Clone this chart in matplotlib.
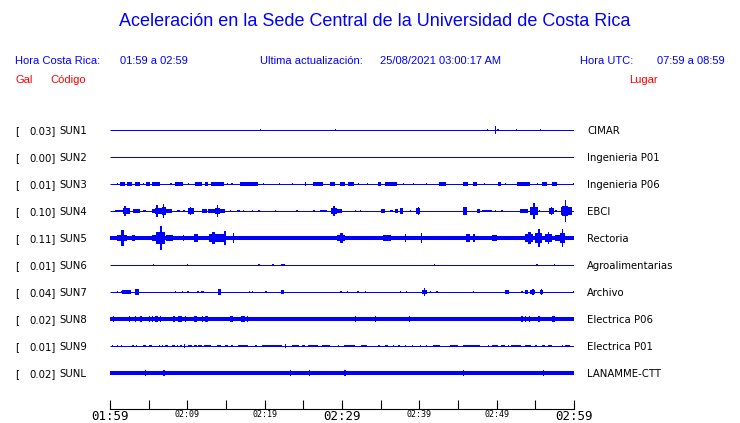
import matplotlib
matplotlib.use("Agg")
import matplotlib.pyplot as plt
from matplotlib.transforms import blended_transform_factory

# ---------------- data ----------------
title = "Aceleración en la Sede Central de la Universidad de Costa Rica"
hora_cr = "01:59 a 02:59"
actualizacion = "25/08/2021 03:00:17 AM"
hora_utc = "07:59 a 08:59"

codes = ["SUN1", "SUN2", "SUN3", "SUN4", "SUN5", "SUN6", "SUN7", "SUN8", "SUN9", "SUNL"]
places = ["CIMAR", "Ingenieria P01", "Ingenieria P06", "EBCI", "Rectoria",
          "Agroalimentarias", "Archivo", "Electrica P06", "Electrica P01", "LANAMME-CTT"]
peak_gal = [0.03, 0.00, 0.01, 0.10, 0.11, 0.01, 0.04, 0.02, 0.01, 0.02]

# continuous background noise level (relative amplitude, 1 = half row)
noise_level = [0, 0, 0, 0, 0.13, 0, 0, 0.14, 0, 0.13]

tick_minutes = [0, 10, 20, 30, 40, 50, 60]
tick_labels = ["01:59", "02:09", "02:19", "02:29", "02:39", "02:49", "02:59"]
big_labels = ["01:59", "02:29", "02:59"]

# bursts: (start minute, end minute, relative amplitude)
sun1 = [(19.4, 19.4, 0.06), (29.1, 29.1, 0.11), (48.7, 48.7, 0.11), (49.8, 49.8, 0.27),
        (50.1, 50.1, 0.07), (52.5, 52.5, 0.07), (55.6, 55.6, 0.11)]
sun2 = []
sun3 = [(0.86, 0.86, 0.11), (1.3, 1.9, 0.15), (2.2, 2.8, 0.13), (3.2, 3.9, 0.13), (4.3, 4.3, 0.11),
        (4.7, 5.2, 0.13), (5.4, 6.5, 0.15), (7.8, 8.0, 0.11), (8.4, 9.5, 0.15), (10.1, 10.1, 0.11),
        (11.0, 11.9, 0.13), (12.3, 12.7, 0.13), (13.1, 14.7, 0.13), (15.1, 15.1, 0.11),
        (15.7, 15.7, 0.11), (16.8, 19.2, 0.15), (19.8, 19.8, 0.11), (21.8, 21.8, 0.11),
        (23.5, 23.5, 0.11), (25.2, 25.2, 0.13), (26.3, 27.6, 0.13), (28.4, 29.1, 0.13),
        (29.7, 30.4, 0.13), (30.8, 31.5, 0.13), (32.1, 32.1, 0.11), (33.2, 33.2, 0.11),
        (34.7, 35.1, 0.13), (35.6, 37.1, 0.13), (37.9, 37.9, 0.11), (39.2, 39.2, 0.11),
        (40.9, 40.9, 0.11), (42.5, 43.5, 0.13), (45.7, 46.3, 0.13), (47.0, 47.4, 0.13),
        (48.3, 48.3, 0.11), (50.2, 50.6, 0.13), (51.1, 51.1, 0.11), (52.6, 54.3, 0.15),
        (55.2, 55.2, 0.11), (55.8, 56.5, 0.13), (57.1, 57.8, 0.13), (59.9, 59.9, 0.11)]
sun4 = [(0.6, 1.7, 0.11), (1.7, 2.6, 0.19), (1.85, 2.0, 0.37), (3.0, 3.9, 0.15), (4.3, 4.7, 0.08),
        (5.4, 5.8, 0.15), (5.8, 6.7, 0.22), (6.0, 6.2, 0.48), (6.7, 7.3, 0.3), (6.8, 7.0, 0.5),
        (7.3, 8.0, 0.15), (8.6, 9.1, 0.11), (9.5, 9.7, 0.11), (10.1, 10.8, 0.19), (10.3, 10.4, 0.3),
        (11.9, 12.5, 0.15), (12.7, 13.6, 0.15), (13.6, 14.2, 0.22), (13.8, 14.0, 0.45),
        (14.2, 14.9, 0.15), (15.5, 15.5, 0.11), (16.4, 16.8, 0.11), (17.2, 17.2, 0.08),
        (18.3, 18.3, 0.11), (19.2, 19.2, 0.08), (21.3, 21.3, 0.08), (24.1, 24.1, 0.11),
        (26.3, 26.3, 0.11), (27.2, 28.0, 0.11), (28.6, 29.4, 0.22), (28.9, 29.1, 0.37),
        (29.4, 30.0, 0.15), (31.7, 31.7, 0.08), (32.3, 32.3, 0.08), (35.1, 35.6, 0.15),
        (36.2, 36.6, 0.11), (36.9, 37.3, 0.15), (37.5, 37.9, 0.19), (38.8, 38.8, 0.08),
        (39.6, 40.1, 0.19), (39.8, 39.9, 0.26), (45.7, 46.1, 0.26), (47.4, 47.8, 0.15),
        (48.1, 49.4, 0.11), (49.8, 49.8, 0.08), (50.6, 50.6, 0.08), (53.0, 54.1, 0.15),
        (54.3, 55.3, 0.3), (54.7, 55.0, 0.6), (55.5, 55.5, 0.11), (56.8, 57.4, 0.22),
        (57.0, 57.2, 0.3), (57.6, 57.8, 0.11), (58.3, 59.7, 0.3), (58.5, 59.2, 0.4),
        (58.85, 58.95, 0.8)]
sun5 = [(0.95, 2.15, 0.22), (1.45, 1.75, 0.58), (2.8, 3.2, 0.22), (5.4, 6.0, 0.22),
        (6.0, 7.1, 0.45), (6.45, 6.75, 0.89), (7.3, 8.2, 0.22), (9.4, 9.4, 0.22),
        (10.8, 11.4, 0.3), (12.8, 14.0, 0.3), (13.2, 13.6, 0.48), (14.0, 15.0, 0.3),
        (14.8, 14.9, 0.52), (15.9, 15.9, 0.37), (16.2, 17.5, 0.15), (29.3, 30.4, 0.22),
        (29.7, 30.1, 0.37), (30.5, 31.9, 0.15), (32.2, 32.4, 0.15), (35.3, 36.4, 0.19),
        (36.6, 38.4, 0.15), (38.1, 38.1, 0.26), (40.2, 40.4, 0.37), (40.9, 41.8, 0.15),
        (46.0, 46.6, 0.33), (47.0, 47.2, 0.26), (49.4, 50.0, 0.19), (52.1, 53.4, 0.15),
        (53.7, 54.7, 0.3), (54.0, 54.4, 0.45), (55.0, 55.9, 0.37), (55.3, 55.6, 0.67),
        (56.2, 57.2, 0.3), (56.6, 56.8, 0.45), (57.5, 58.2, 0.22), (58.2, 58.8, 0.37),
        (58.4, 58.6, 0.67), (58.8, 60.0, 0.15)]
sun6 = [(5.5, 5.5, 0.11), (9.9, 9.9, 0.11), (19.2, 19.2, 0.07), (21.0, 21.0, 0.11),
        (22.1, 22.6, 0.11), (41.9, 41.9, 0.11), (55.1, 55.3, 0.11), (57.4, 57.4, 0.07)]
sun7 = [(0.86, 0.86, 0.07), (1.4, 1.4, 0.07), (1.6, 2.7, 0.13), (3.2, 3.7, 0.19), (3.35, 3.45, 0.22),
        (8.4, 8.4, 0.07), (9.3, 9.3, 0.07), (10.0, 10.0, 0.07), (11.3, 11.3, 0.07),
        (11.8, 12.2, 0.11), (14.0, 14.4, 0.19), (18.0, 18.0, 0.11), (18.3, 18.3, 0.11),
        (20.1, 20.1, 0.07), (22.1, 22.5, 0.15), (29.8, 29.8, 0.07), (30.6, 30.6, 0.07),
        (32.0, 32.0, 0.07), (33.0, 33.0, 0.07), (37.5, 37.5, 0.07), (38.3, 38.3, 0.11),
        (40.3, 41.0, 0.15), (40.55, 40.65, 0.3), (41.4, 41.4, 0.07), (42.2, 42.2, 0.07),
        (46.9, 46.9, 0.07), (51.1, 51.6, 0.15), (53.2, 53.2, 0.11), (53.7, 54.1, 0.15),
        (54.3, 55.0, 0.15), (54.6, 54.8, 0.22), (55.6, 56.0, 0.15), (55.75, 55.85, 0.19),
        (59.9, 59.9, 0.07)]
sun8 = [(0.4, 0.4, 0.19), (2.4, 2.4, 0.19), (3.2, 3.2, 0.19), (3.9, 4.2, 0.19), (5.0, 5.0, 0.19),
        (5.4, 5.4, 0.19), (5.8, 6.2, 0.19), (6.5, 6.5, 0.19), (8.2, 8.2, 0.19), (8.8, 9.3, 0.19),
        (9.7, 9.7, 0.19), (10.8, 11.3, 0.19), (11.9, 11.9, 0.19), (12.3, 12.7, 0.19),
        (15.5, 15.5, 0.19), (15.7, 15.7, 0.19), (16.9, 17.4, 0.19), (17.7, 17.7, 0.19),
        (31.7, 31.7, 0.19), (34.3, 34.3, 0.19), (38.6, 38.6, 0.22), (53.2, 53.2, 0.19),
        (53.7, 53.7, 0.19), (54.2, 54.2, 0.19), (55.4, 55.4, 0.19), (57.1, 57.5, 0.19)]
sun9 = [(0.2, 0.2, 0.1), (0.86, 0.86, 0.1), (1.4, 1.4, 0.1), (2.9, 2.9, 0.1), (3.4, 3.4, 0.1),
        (4.3, 4.7, 0.1), (5.0, 5.4, 0.1), (6.3, 6.3, 0.1), (6.7, 6.7, 0.1), (7.1, 7.5, 0.1),
        (8.0, 8.4, 0.1), (8.6, 8.6, 0.1), (9.1, 9.1, 0.1), (9.6, 9.6, 0.15), (10.1, 10.6, 0.1),
        (10.8, 11.2, 0.1), (11.4, 11.9, 0.1), (12.1, 13.1, 0.1), (13.8, 14.4, 0.1),
        (14.9, 15.3, 0.1), (15.7, 15.7, 0.1), (16.6, 17.9, 0.1), (18.8, 18.8, 0.1),
        (19.6, 22.2, 0.1), (22.6, 22.6, 0.15), (23.5, 24.4, 0.1), (24.8, 25.2, 0.1),
        (25.6, 26.9, 0.1), (27.4, 28.4, 0.1), (29.5, 29.5, 0.1), (30.2, 31.7, 0.1),
        (32.5, 33.2, 0.1), (34.7, 34.7, 0.1), (35.6, 36.0, 0.1), (36.6, 36.6, 0.1),
        (37.3, 37.3, 0.1), (38.1, 38.1, 0.1), (39.0, 39.0, 0.1), (40.1, 40.1, 0.1),
        (40.9, 40.9, 0.1), (41.8, 42.7, 0.1), (44.0, 45.0, 0.1), (45.7, 46.1, 0.1),
        (46.1, 47.8, 0.1), (48.9, 48.9, 0.1), (49.4, 50.2, 0.1), (50.6, 51.1, 0.1),
        (51.5, 51.5, 0.1), (51.9, 53.2, 0.1), (53.7, 54.5, 0.1), (55.0, 55.0, 0.1),
        (55.8, 56.3, 0.1), (56.7, 57.1, 0.1), (58.4, 58.4, 0.1), (58.8, 59.5, 0.1)]
sunl = [(4.5, 4.5, 0.19), (6.9, 6.9, 0.19), (23.3, 23.3, 0.22), (25.7, 25.7, 0.22),
        (30.3, 30.3, 0.22), (45.6, 45.6, 0.19), (56.0, 56.0, 0.19)]

bursts = [sun1, sun2, sun3, sun4, sun5, sun6, sun7, sun8, sun9, sunl]

# ---------------- figure ----------------
W, H = 740, 423
BLUE = "#0000ff"
RED = "#ff0000"
fig = plt.figure(figsize=(W / 100, H / 100), dpi=100)
fig.patch.set_facecolor("white")

def fx(px):
    return px / W

def fy(py):
    return 1 - py / H

ROW_PX = 27.0
top_px, bottom_px, first_row_px = 117, 409, 130
ax = fig.add_axes([fx(110), fy(bottom_px), 464 / W, (bottom_px - top_px) / H])
ax.set_xlim(0, 60)
ax.set_ylim(-(bottom_px - first_row_px) / ROW_PX, (first_row_px - top_px) / ROW_PX)
HALF = 0.5  # data units for relative amplitude 1 (half a row)
MIN_W = 60 / 464 * 1.2  # about one pixel

for i, ev in enumerate(bursts):
    y = -i
    ax.plot([0, 60], [y, y], color=BLUE, lw=0.72, solid_capstyle="butt", zorder=2)
    if noise_level[i] > 0:
        n = noise_level[i] * HALF
        ax.fill_between([0, 60], y - n, y + n, color=BLUE, lw=0, zorder=2)
    if ev:
        lefts = [e[0] for e in ev]
        widths = [max(e[1] - e[0], MIN_W) for e in ev]
        heights = [2 * e[2] * HALF for e in ev]
        bottoms = [y - e[2] * HALF for e in ev]
        ax.bar(lefts, heights, width=widths, bottom=bottoms, align="edge",
               color=BLUE, linewidth=0, snap=True, zorder=3)

for s in ["top", "left", "right"]:
    ax.spines[s].set_visible(False)
ax.spines["bottom"].set_color("black")
ax.spines["bottom"].set_linewidth(0.8)
ax.set_yticks([])
ax.set_xticks(range(0, 61, 5))
lab = []
for m in range(0, 61, 5):
    lab.append(tick_labels[tick_minutes.index(m)] if m in tick_minutes else "")
ax.set_xticklabels(lab)
ax.tick_params(axis="x", direction="in", length=6.6, width=0.8, pad=1.0, colors="black")
for t in ax.get_xticklabels():
    t.set_family("DejaVu Sans Mono")
    t.set_fontsize(9 if t.get_text() in big_labels else 6)

# row labels
tr = blended_transform_factory(fig.transFigure, ax.transData)
lab_fs = 7.3
cap_off = 3.6 / ROW_PX
for i in range(len(codes)):
    yb = -i - cap_off
    ax.text(fx(15), yb, "[", transform=tr, fontsize=lab_fs, family="DejaVu Sans",
            va="baseline", ha="left", color="black")
    ax.text(fx(56), yb, f"{peak_gal[i]:.2f}]", transform=tr, fontsize=lab_fs,
            family="DejaVu Sans", va="baseline", ha="right", color="black")
    ax.text(fx(59), yb, codes[i], transform=tr, fontsize=lab_fs, family="DejaVu Sans",
            va="baseline", ha="left", color="black")
    ax.text(fx(587), yb, places[i], transform=tr, fontsize=lab_fs, family="DejaVu Sans",
            va="baseline", ha="left", color="black")

# header
hf = "Liberation Sans"
fig.text(fx(375), fy(22), title, fontsize=13, family=hf, color=BLUE, ha="center", va="center")
fig.text(fx(15), fy(61), "Hora Costa Rica:", fontsize=8, family=hf, color=BLUE, va="center")
fig.text(fx(120), fy(61), hora_cr, fontsize=8, family=hf, color=BLUE, va="center")
fig.text(fx(260), fy(61), "Ultima actualización:", fontsize=8, family=hf, color=BLUE, va="center")
fig.text(fx(380), fy(61), actualizacion, fontsize=8, family=hf, color=BLUE, va="center")
fig.text(fx(580), fy(61), "Hora UTC:", fontsize=8, family=hf, color=BLUE, va="center")
fig.text(fx(725), fy(61), hora_utc, fontsize=8, family=hf, color=BLUE, va="center", ha="right")
fig.text(fx(15), fy(80), "Gal", fontsize=8, family=hf, color=RED, va="center")
fig.text(fx(50), fy(80), "Código", fontsize=8, family=hf, color=RED, va="center")
fig.text(fx(629), fy(80), "Lugar", fontsize=8, family=hf, color=RED, va="center")

fig.savefig("out.png", dpi=100)
